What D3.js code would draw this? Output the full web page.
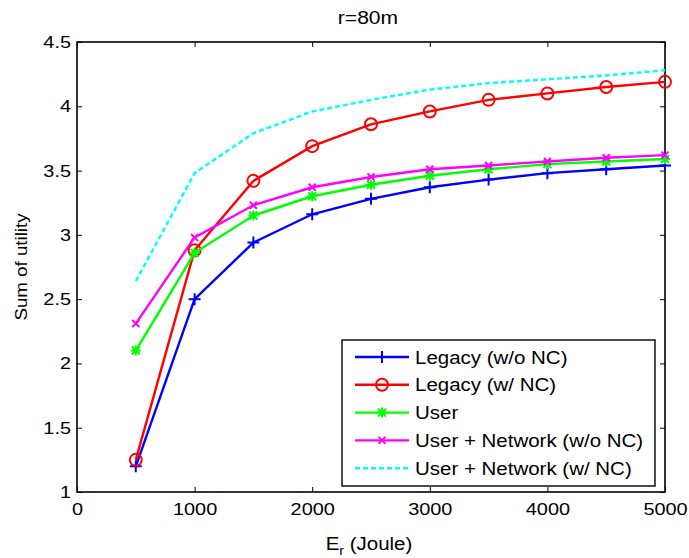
<!DOCTYPE html>
<html>
<head>
<meta charset="utf-8">
<script src="https://cdn.jsdelivr.net/npm/d3@7"></script>
<style>
  body { margin: 0; background: #fff; }
  svg { display: block; }
  text { font-family: "Liberation Sans", Arial, sans-serif; fill: #000; }
</style>
</head>
<body>
<svg id="chart" width="689" height="558"></svg>
<script>
// Energy budget E_r (Joule)
const energy = [500, 1000, 1500, 2000, 2500, 3000, 3500, 4000, 4500, 5000];

// Sum of utility for each scheme
const legacyNoNC   = [1.20, 2.50, 2.94, 3.16, 3.28, 3.37, 3.43, 3.48, 3.51, 3.54];
const legacyNC     = [1.25, 2.88, 3.42, 3.69, 3.86, 3.96, 4.05, 4.10, 4.15, 4.19];
const userOnly     = [2.10, 2.86, 3.15, 3.30, 3.39, 3.46, 3.51, 3.55, 3.57, 3.59];
const userNetNoNC  = [2.31, 2.98, 3.23, 3.37, 3.45, 3.51, 3.54, 3.57, 3.60, 3.62];
const userNetNC    = [2.64, 3.48, 3.79, 3.96, 4.05, 4.13, 4.18, 4.21, 4.24, 4.28];

const seriesNames = ["Legacy (w/o NC)", "Legacy (w/ NC)", "User",
                     "User + Network (w/o NC)", "User + Network (w/ NC)"];
const seriesColors = ["#0000ff", "#ff0000", "#00ff00", "#ff00ff", "#00ffff"];
const seriesMarkers = ["plus", "circle", "star", "cross", "none"];

const xTicks = [0, 1000, 2000, 3000, 4000, 5000];
const yTicks = [1, 1.5, 2, 2.5, 3, 3.5, 4, 4.5];

const series = [legacyNoNC, legacyNC, userOnly, userNetNoNC, userNetNC].map((vals, i) => ({
  name: seriesNames[i], color: seriesColors[i], marker: seriesMarkers[i],
  dashed: seriesMarkers[i] === "none",
  points: vals.map((v, j) => ({ x: energy[j], y: v }))
}));

// widen glyphs horizontally so the text has the broad figure-export look
const stretchFactor = 1.17;
function stretch(sel) {
  sel.each(function () {
    const w = this.getComputedTextLength();
    if (w > 0) {
      d3.select(this).attr("textLength", w * stretchFactor).attr("lengthAdjust", "spacingAndGlyphs");
    }
  });
}

const svg = d3.select("#chart");
const plotLeft = 77, plotRight = 665, plotTop = 42, plotBottom = 492;

const x = d3.scaleLinear().domain([0, 5000]).range([plotLeft, plotRight]);
const y = d3.scaleLinear().domain([1, 4.5]).range([plotBottom, plotTop]);

// plot area with ticks drawn inward on all four sides
const tickLen = 5;
const axisFont = "17px";

const gx = svg.append("g").attr("transform", `translate(0,${plotBottom})`)
  .call(d3.axisBottom(x).tickValues(xTicks).tickFormat(d3.format("d")).tickSizeInner(-tickLen).tickSizeOuter(0).tickPadding(11));
const gxTop = svg.append("g").attr("transform", `translate(0,${plotTop})`)
  .call(d3.axisTop(x).tickValues(xTicks).tickFormat("").tickSizeInner(-tickLen).tickSizeOuter(0));
const gy = svg.append("g").attr("transform", `translate(${plotLeft},0)`)
  .call(d3.axisLeft(y).tickValues(yTicks).tickFormat(d3.format("")).tickSizeInner(-tickLen).tickSizeOuter(0).tickPadding(6));
const gyRight = svg.append("g").attr("transform", `translate(${plotRight},0)`)
  .call(d3.axisRight(y).tickValues(yTicks).tickFormat("").tickSizeInner(-tickLen).tickSizeOuter(0));

[gx, gxTop, gy, gyRight].forEach(g => {
  g.select(".domain").remove();
  g.selectAll(".tick line").attr("stroke", "#000").attr("stroke-width", 1);
  g.selectAll("text").style("font-size", axisFont).style("font-family", "Liberation Sans, Arial, sans-serif").attr("fill", "#000");
});
stretch(gx.selectAll("text"));
stretch(gy.selectAll("text"));

svg.append("rect")
  .attr("x", plotLeft).attr("y", plotTop)
  .attr("width", plotRight - plotLeft).attr("height", plotBottom - plotTop)
  .attr("fill", "none").attr("stroke", "#000").attr("stroke-width", 1.6);

// lines
const line = d3.line().x(d => x(d.x)).y(d => y(d.y));

function drawMarker(g, type, cx, cy, color) {
  if (type === "plus") {
    g.append("path").attr("d", `M${cx - 6},${cy}H${cx + 6}M${cx},${cy - 6}V${cy + 6}`)
      .attr("stroke", color).attr("stroke-width", 2).attr("fill", "none");
  } else if (type === "circle") {
    g.append("circle").attr("cx", cx).attr("cy", cy).attr("r", 6)
      .attr("stroke", color).attr("stroke-width", 2).attr("fill", "none");
  } else if (type === "star") {
    g.append("path").attr("d",
      `M${cx - 5},${cy}H${cx + 5}M${cx},${cy - 5}V${cy + 5}M${cx - 4},${cy - 4}L${cx + 4},${cy + 4}M${cx - 4},${cy + 4}L${cx + 4},${cy - 4}`)
      .attr("stroke", color).attr("stroke-width", 2).attr("fill", "none");
  } else if (type === "cross") {
    g.append("path").attr("d",
      `M${cx - 3.5},${cy - 3.5}L${cx + 3.5},${cy + 3.5}M${cx - 3.5},${cy + 3.5}L${cx + 3.5},${cy - 3.5}`)
      .attr("stroke", color).attr("stroke-width", 2).attr("fill", "none");
  }
}

const plot = svg.append("g");
series.forEach(s => {
  plot.append("path").datum(s.points)
    .attr("d", line)
    .attr("fill", "none")
    .attr("stroke", s.color)
    .attr("stroke-width", 2.4)
    .attr("stroke-dasharray", s.dashed ? "5,3" : null);
  const mg = plot.append("g");
  s.points.forEach(p => drawMarker(mg, s.marker, x(p.x), y(p.y), s.color));
});

// legend
const lg = svg.append("g").attr("transform", "translate(342,340)");
lg.append("rect").attr("x", 0).attr("y", 0).attr("width", 313).attr("height", 146)
  .attr("fill", "#fff").attr("stroke", "#000").attr("stroke-width", 1.4);
series.forEach((s, i) => {
  const ly = 17 + i * 27.8;
  lg.append("line").attr("x1", 13).attr("x2", 67).attr("y1", ly).attr("y2", ly)
    .attr("stroke", s.color).attr("stroke-width", 2.4)
    .attr("stroke-dasharray", s.dashed ? "5,3" : null);
  drawMarker(lg, s.marker, 40, ly, s.color);
  lg.append("text").attr("x", 73).attr("y", ly + 6.5)
    .style("font-size", "17.5px").text(s.name);
});
stretch(lg.selectAll("text"));

// title and axis labels
const title = svg.append("text").attr("x", 368).attr("y", 24).attr("text-anchor", "middle")
  .style("font-size", "18px").text("r=80m");
stretch(title);

const xl = svg.append("text").attr("x", 369).attr("y", 550).attr("text-anchor", "middle")
  .style("font-size", "17.5px");
xl.append("tspan").text("E");
xl.append("tspan").attr("dy", 5).style("font-size", "12px").text("r");
xl.append("tspan").attr("dy", -5).text(" (Joule)");
stretch(xl);

const yl = svg.append("text").attr("transform", "translate(27,267) rotate(-90)")
  .attr("text-anchor", "middle").style("font-size", "16px").text("Sum of utility");
stretch(yl);
</script>
</body>
</html>
